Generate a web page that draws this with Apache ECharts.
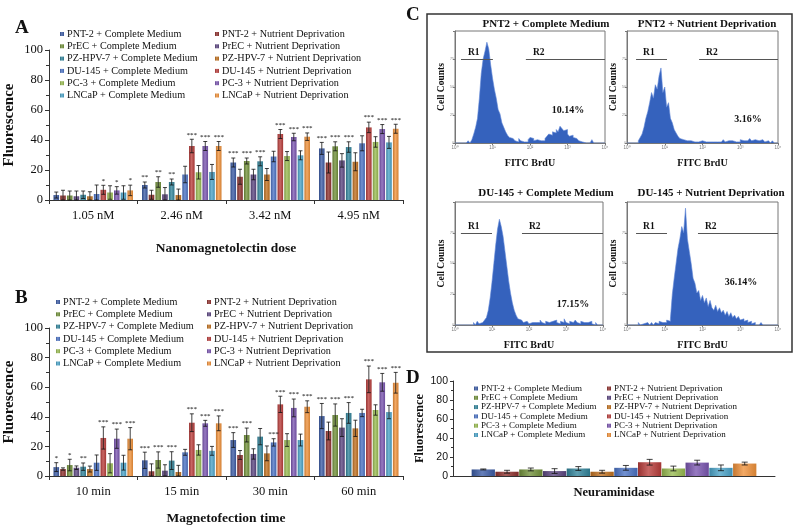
<!DOCTYPE html>
<html><head><meta charset="utf-8">
<script src="https://cdn.jsdelivr.net/npm/echarts@6/dist/echarts.min.js"></script>
<style>html,body{margin:0;padding:0;background:#fff}#c{width:800px;height:532px}</style>
</head><body><div id="c"></div>
<script>
// ---------------- DATA ----------------
const seriesNames = [
  'PNT-2 + Complete Medium', 'PNT-2 + Nutrient Deprivation',
  'PrEC + Complete Medium', 'PrEC + Nutrient Deprivation',
  'PZ-HPV-7 + Complete Medium', 'PZ-HPV-7 + Nutrient Deprivation',
  'DU-145 + Complete Medium', 'DU-145 + Nutrient Deprivation',
  'PC-3 + Complete Medium', 'PC-3 + Nutrient Deprivation',
  'LNCaP + Complete Medium', 'LNCaP + Nutrient Deprivation'
];
const doseCategories = ['1.05 nM', '2.46 nM', '3.42 nM', '4.95 nM'];
const timeCategories = ['10 min', '15 min', '30 min', '60 min'];
const neuraCategories = ['Neuraminidase'];

// Panel A: one row per dose, 12 series each
const doseValues = [
  [3.3, 3, 3, 2.5, 3.5, 2.5, 4, 6.8, 5, 6.4, 5, 6.4],
  [10, 3.5, 12, 3.8, 12, 3.3, 17, 36, 18.5, 36, 18.7, 36],
  [25, 15.5, 26, 17, 25.8, 17, 29, 44, 29.3, 42, 29.8, 42.2],
  [34.4, 25, 35.8, 26.4, 35.3, 25.5, 37.8, 48.4, 38.7, 47.3, 38.4, 47.5]
];
const doseErrors = [
  [2, 3.5, 3, 3.5, 2.5, 3, 6, 3, 4.5, 2.5, 4.5, 3.5],
  [2, 3, 3.5, 4.5, 2, 4, 5.5, 4.5, 4.5, 3, 5, 3],
  [3, 5, 2, 3.5, 3, 4, 3.5, 3, 3, 2.5, 3, 2.5],
  [4, 7, 3, 4.5, 3.5, 6, 5, 3.5, 3.5, 3, 4, 3]
];
const doseStars = [
  [0, 0, 0, 0, 0, 0, 0, 1, 0, 1, 0, 1],
  [2, 0, 2, 0, 2, 0, 0, 3, 0, 3, 0, 3],
  [3, 0, 3, 0, 3, 0, 0, 3, 0, 3, 0, 3],
  [3, 0, 3, 0, 3, 0, 0, 3, 0, 3, 0, 3]
];

// Panel B
const timeValues = [
  [6, 4.7, 7.4, 5.6, 6.3, 4.7, 9, 25.7, 8.6, 25.2, 9, 25.2],
  [10.6, 3.2, 10.8, 3.6, 10.4, 2.7, 16, 36, 17.6, 35.6, 17, 35.6],
  [24.3, 14.2, 27.7, 14.9, 26.6, 15.3, 22.7, 48.4, 24.3, 46, 24.3, 46.8],
  [40.5, 30.4, 41.2, 32.7, 42.6, 32.2, 42.6, 65.3, 44.6, 63.3, 43.2, 63]
];
const timeErrors = [
  [3, 0.8, 3.9, 1.2, 2.5, 2, 5.2, 7.5, 6.5, 6.5, 5, 7.5],
  [5.5, 5, 5.5, 4, 6, 4.5, 2, 6, 3.5, 2, 3, 5],
  [5, 3, 4.7, 3.5, 5.5, 5, 2.5, 5.5, 4.3, 6, 4, 4],
  [8.5, 6, 7.5, 6, 7, 5.5, 2.5, 9, 3.5, 6, 4.5, 7]
];
const timeStars = [
  [1, 0, 1, 0, 2, 0, 0, 3, 0, 3, 0, 3],
  [3, 0, 3, 0, 3, 0, 0, 3, 0, 3, 0, 3],
  [3, 0, 3, 0, 0, 0, 3, 3, 0, 3, 0, 3],
  [3, 0, 3, 0, 3, 0, 0, 3, 0, 3, 0, 3]
];

// Panel D
const neuraValues = [6.9, 4.5, 6.9, 5.2, 7.9, 4.5, 8.6, 14.5, 7.9, 14.1, 8.6, 13.1];
const neuraErrors = [0.5, 1.5, 1.5, 2.5, 2, 1.5, 2.5, 3, 2.5, 2.5, 3, 1.5];

// Panel C: flow-cytometry histograms, log10(FITC BrdU) bins of 0.05 from 10^0
const histBinWidth = 0.05;
const histPNT2Complete = [0,0,0,0,0,0,0,2,0,3, 8,14,22,40,62,75,82,90,84,70, 58,48,40,30,26,18,14,10,7,5, 4,3,2,1,4,2,1,0,1,3, 5,4,2,3,4,2,3,2,4,6, 8,7,10,9,12,10,15,13,11,12, 8,6,7,5,4,3,2,1,0,0, 0,0,0,3,0,0,0,0,0,0];
const histPNT2Deprivation = [0,0,0,0,0,0,2,5,8,14, 22,28,36,45,40,52,48,60,67,45, 50,32,36,22,18,12,9,6,4,3, 2,2,1,2,1,1,2,1,1,2, 1,1,2,1,2,1,1,1,2,1, 1,3,1,2,1,2,1,1,2,1, 3,2,1,2,3,4,2,3,4,2, 1,3,2,1,2,1,0,2,0,0];
const histDU145Complete = [0,0,0,0,0,0,0,0,0,0, 2,0,3,1,2,3,4,6,12,22, 35,50,65,78,86,80,72,60,48,36, 26,18,12,8,5,4,3,2,3,2, 1,2,3,2,1,2,4,2,1,3, 2,1,3,2,4,2,1,3,2,5, 2,1,3,2,1,4,2,1,3,2, 1,2,1,3,1,0,2,0,0,0];
const histDU145Deprivation = [0,0,0,0,0,0,2,0,1,0, 2,1,0,2,0,2,1,3,2,3, 2,4,3,5,25,38,50,62,70,80, 75,95,70,60,50,38,34,26,28,20, 24,18,22,15,20,14,12,16,11,14, 10,12,8,11,7,10,6,8,5,7, 4,5,3,4,2,3,1,2,0,0, 0,2,0,0,0,0,0,0,0,0];
const histTitles = ['PNT2 + Complete Medium', 'PNT2 + Nutrient Deprivation', 'DU-145 + Complete Medium', 'DU-145 + Nutrient Deprivation'];
const histPercents = ['10.14%', '3.16%', '17.15%', '36.14%'];
// gate regions [R1 start, R1 end, R2 start] in log10 units
const histGates = [[0.16, 1.01, 1.89], [0.24, 1.06, 1.91], [0.16, 1.0, 1.81], [0.24, 1.06, 1.88]];

// ---------------- STYLE ----------------
const seriesColors = ['#3b5ba5', '#8e302d', '#72913a', '#5b4580', '#31849b', '#c0701e',
                      '#4a72c4', '#b83c3a', '#98bb50', '#7a55b0', '#4aa3c8', '#f0913a'];
const SERIF = '"Liberation Serif", "Times New Roman", serif';

function shade(hex, f) {
  const n = parseInt(hex.slice(1), 16);
  let r = (n >> 16) & 255, g = (n >> 8) & 255, b = n & 255;
  const t = c => Math.round(f > 0 ? c + (255 - c) * f : c * (1 + f));
  return 'rgb(' + t(r) + ',' + t(g) + ',' + t(b) + ')';
}
function grad(c) {
  return { type: 'linear', x: 0, y: 0, x2: 1, y2: 0, colorStops: [
    { offset: 0, color: shade(c, -0.18) }, { offset: 0.45, color: shade(c, 0.22) }, { offset: 1, color: shade(c, -0.12) }] };
}

const chart = echarts.init(document.getElementById('c'));

const barCfg = [ { bw: 5.6, gap: 0.2 }, { bw: 5.6, gap: 0.2 }, { bw: 23.3, gap: 0.02 } ];

function barSeries(ax, rows) {
  return seriesNames.map((nm, s) => ({
    type: 'bar', name: nm, xAxisIndex: ax, yAxisIndex: ax,
    data: rows.map(r => r[s]),
    barWidth: barCfg[ax].bw, barGap: (barCfg[ax].gap * 100) + '%',
    itemStyle: { color: grad(seriesColors[s]) },
    z: 2
  }));
}
function errSeries(ax, rows, errs, stars) {
  const data = [];
  rows.forEach((r, c) => r.forEach((v, s) => data.push([c, s, v, errs[c][s], stars ? stars[c][s] : 0])));
  const { bw, gap } = barCfg[ax];
  const n = seriesNames.length;
  const pitch = bw * (1 + gap);
  const total = n * pitch - bw * gap;
  return {
    type: 'custom', xAxisIndex: ax, yAxisIndex: ax, z: 5, silent: true,
    encode: { x: 0, y: 2 },
    data: data,
    renderItem: function (params, api) {
      const c = api.value(0), s = api.value(1), v = api.value(2), e = api.value(3), st = api.value(4);
      const base = api.coord([c, v]);
      const x = base[0] - total / 2 + s * pitch + bw / 2;
      const yt = api.coord([c, v + e])[1];
      const yb = api.coord([c, Math.max(0, v - e)])[1];
      const cap = ax === 2 ? 3 : 2;
      const st2 = { stroke: '#111', lineWidth: 0.8 };
      const children = [
        { type: 'line', shape: { x1: x, y1: yt, x2: x, y2: yb }, style: st2 },
        { type: 'line', shape: { x1: x - cap, y1: yt, x2: x + cap, y2: yt }, style: st2 },
        { type: 'line', shape: { x1: x - cap, y1: yb, x2: x + cap, y2: yb }, style: st2 }
      ];
      if (st > 0) {
        children.push({ type: 'text', style: { text: '*'.repeat(st), x: x, y: yt - 1, align: 'center', verticalAlign: 'bottom',
          fontSize: 7, fontFamily: SERIF, fill: '#000' } });
      }
      return { type: 'group', children: children };
    }
  };
}

const histData = [histPNT2Complete, histPNT2Deprivation, histDU145Complete, histDU145Deprivation];
function histSeries(k) {
  const arr = histData[k];
  const pts = arr.map((v, i) => [i * histBinWidth, v]);
  pts.push([arr.length * histBinWidth, 0]);
  const g = histGates[k];
  const lbl = { show: true, position: 'insideStartTop', formatter: '{b}', fontFamily: SERIF, fontWeight: 'bold', fontSize: 9.5, color: '#111', padding: [0, 0, 0, 6], distance: 1 };
  return {
    type: 'line', xAxisIndex: 3 + k, yAxisIndex: 3 + k, step: 'end', symbol: 'none', silent: true,
    data: pts,
    lineStyle: { color: '#5f86d6', width: 0.6 },
    areaStyle: { color: '#3562bd', opacity: 1 },
    markLine: {
      symbol: 'none', silent: true, animation: false,
      lineStyle: { color: '#555', width: 1, type: 'solid' },
      label: lbl,
      data: [
        [{ name: 'R1', coord: [g[0], 75] }, { coord: [g[1], 75] }],
        [{ name: 'R2', coord: [g[2], 75] }, { coord: [4, 75] }]
      ]
    }
  };
}

const histGrids = [
  { left: 455, top: 31, width: 150, height: 112 },
  { left: 627, top: 31, width: 151, height: 112 },
  { left: 455, top: 202, width: 148, height: 123 },
  { left: 627, top: 202, width: 151, height: 123 }
];

const supers = ['\u2070', '\u00b9', '\u00b2', '\u00b3', '\u2074'];
const catAxisBase = {
  type: 'category',
  axisLine: { lineStyle: { color: '#333', width: 1 } },
  axisTick: { show: true, length: 4, lineStyle: { color: '#333' } },
  axisLabel: { fontFamily: SERIF, fontSize: 12.5, color: '#111', margin: 9 },
  nameLocation: 'middle',
  nameTextStyle: { fontFamily: SERIF, fontWeight: 'bold', fontSize: 13.5, color: '#111' }
};
const valAxisBase = {
  type: 'value', min: 0, max: 100, interval: 20,
  axisLine: { show: true, lineStyle: { color: '#333', width: 1 } },
  axisTick: { show: true, length: 4, lineStyle: { color: '#333' } },
  minorTick: { show: true, splitNumber: 2, length: 3, lineStyle: { color: '#333' } },
  splitLine: { show: false },
  axisLabel: { fontFamily: SERIF, fontSize: 12.5, color: '#111', margin: 6 },
  name: 'Fluorescence', nameLocation: 'middle', nameRotate: 90,
  nameTextStyle: { fontFamily: SERIF, fontWeight: 'bold', fontSize: 15, color: '#111' }
};

const xAxes = [
  Object.assign({}, catAxisBase, { gridIndex: 0, data: doseCategories, name: 'Nanomagnetolectin dose', nameGap: 42 }),
  Object.assign({}, catAxisBase, { gridIndex: 1, data: timeCategories, name: 'Magnetofection time', nameGap: 36 }),
  Object.assign({}, catAxisBase, { gridIndex: 2, data: neuraCategories, name: 'Neuraminidase', nameGap: 10,
    axisLabel: { show: false }, axisTick: { show: false },
    nameTextStyle: { fontFamily: SERIF, fontWeight: 'bold', fontSize: 12.5, color: '#111' } })
];
const yAxes = [
  Object.assign({}, valAxisBase, { gridIndex: 0, nameGap: 32 }),
  Object.assign({}, valAxisBase, { gridIndex: 1, nameGap: 32 }),
  Object.assign({}, valAxisBase, { gridIndex: 2, nameGap: 27,
    axisLabel: { fontFamily: 'Arial, "Liberation Sans", sans-serif', fontSize: 10.5, color: '#111', margin: 5 },
    axisTick: { show: true, length: 3, lineStyle: { color: '#333' } },
    minorTick: { show: true, splitNumber: 2, length: 2, lineStyle: { color: '#333' } },
    nameTextStyle: { fontFamily: SERIF, fontWeight: 'bold', fontSize: 12.5, color: '#111' } })
];
histGrids.forEach((g, k) => {
  xAxes.push({
    type: 'value', gridIndex: 3 + k, min: 0, max: 4, interval: 1,
    axisLine: { show: true, lineStyle: { color: '#777' } },
    axisTick: { show: true, length: 2, lineStyle: { color: '#777' } },
    splitLine: { show: false },
    axisLabel: { fontSize: 4.5, color: '#777', margin: 2, formatter: v => '10' + supers[v] },
    name: 'FITC BrdU', nameLocation: 'middle', nameGap: 15,
    nameTextStyle: { fontFamily: SERIF, fontWeight: 'bold', fontSize: 10, color: '#111' }
  });
  yAxes.push({
    type: 'value', gridIndex: 3 + k, min: 0, max: 100, interval: 25,
    axisLine: { show: true, lineStyle: { color: '#777' } },
    axisTick: { show: true, length: 2, lineStyle: { color: '#777' } },
    splitLine: { show: false },
    axisLabel: { fontSize: 3.5, color: '#888', margin: 1, formatter: v => v === 100 ? '' : String(v) },
    name: 'Cell Counts', nameLocation: 'middle', nameGap: 7, nameRotate: 90,
    nameTextStyle: { fontFamily: SERIF, fontWeight: 'bold', fontSize: 9.5, color: '#111' }
  });
});

function legendCol(names, left, top, fs, lh) {
  return {
    data: names, orient: 'vertical', left: left, top: top, padding: 0,
    icon: 'rect', itemWidth: 4, itemHeight: 4, itemGap: 0.3,
    selectedMode: false,
    textStyle: { fontFamily: SERIF, fontSize: fs, lineHeight: lh, color: '#111', padding: [0, 0, 0, -2] }
  };
}
const cmNames = seriesNames.filter((_, i) => i % 2 === 0);
const ndNames = seriesNames.filter((_, i) => i % 2 === 1);

const option = {
  backgroundColor: '#fff',
  animation: false,
  grid: [
    { left: 49, top: 50, width: 354, height: 150 },
    { left: 49, top: 328, width: 354, height: 148 },
    { left: 453, top: 381, width: 322, height: 95 }
  ].concat(histGrids.map(g => Object.assign({ show: true, borderColor: '#777', borderWidth: 1, backgroundColor: '#fff' }, g))),
  xAxis: xAxes,
  yAxis: yAxes,
  legend: [
    legendCol(cmNames, 60, 28, 10.2, 12),
    legendCol(ndNames, 215, 28, 10.2, 12),
    legendCol(cmNames, 56, 296, 10.2, 12),
    legendCol(ndNames, 207, 296, 10.2, 12),
    legendCol(cmNames, 474, 384, 9, 9),
    legendCol(ndNames, 607, 384, 9, 9)
  ],
  series: [].concat(
    barSeries(0, doseValues), [errSeries(0, doseValues, doseErrors, doseStars)],
    barSeries(1, timeValues), [errSeries(1, timeValues, timeErrors, timeStars)],
    barSeries(2, [neuraValues]), [errSeries(2, [neuraValues], [neuraErrors], null)],
    [0, 1, 2, 3].map(histSeries)
  ),
  graphic: [
    { type: 'text', left: 15, top: 19, style: { text: 'A', font: 'bold 19px ' + SERIF, fill: '#111' } },
    { type: 'text', left: 15, top: 289, style: { text: 'B', font: 'bold 19px ' + SERIF, fill: '#111' } },
    { type: 'text', left: 406, top: 6, style: { text: 'C', font: 'bold 19px ' + SERIF, fill: '#111' } },
    { type: 'text', left: 406, top: 369, style: { text: 'D', font: 'bold 19px ' + SERIF, fill: '#111' } },
    { type: 'rect', shape: { x: 427, y: 14, width: 365, height: 338 }, style: { fill: 'none', stroke: '#333', lineWidth: 1.5 }, z: 10 },
    { type: 'text', x: 546, y: 24, style: { text: histTitles[0], font: 'bold 11px ' + SERIF, fill: '#111', align: 'center', verticalAlign: 'middle' } },
    { type: 'text', x: 707, y: 24, style: { text: histTitles[1], font: 'bold 11px ' + SERIF, fill: '#111', align: 'center', verticalAlign: 'middle' } },
    { type: 'text', x: 546, y: 193, style: { text: histTitles[2], font: 'bold 11px ' + SERIF, fill: '#111', align: 'center', verticalAlign: 'middle' } },
    { type: 'text', x: 711, y: 193, style: { text: histTitles[3], font: 'bold 11px ' + SERIF, fill: '#111', align: 'center', verticalAlign: 'middle' } },
    { type: 'text', x: 568, y: 110, z: 20, style: { text: histPercents[0], font: 'bold 10px ' + SERIF, fill: '#111', align: 'center', verticalAlign: 'middle' } },
    { type: 'text', x: 748, y: 119, z: 20, style: { text: histPercents[1], font: 'bold 10px ' + SERIF, fill: '#111', align: 'center', verticalAlign: 'middle' } },
    { type: 'text', x: 573, y: 304, z: 20, style: { text: histPercents[2], font: 'bold 10px ' + SERIF, fill: '#111', align: 'center', verticalAlign: 'middle' } },
    { type: 'text', x: 741, y: 282, z: 20, style: { text: histPercents[3], font: 'bold 10px ' + SERIF, fill: '#111', align: 'center', verticalAlign: 'middle' } }
  ]
};
chart.setOption(option);
</script>
</body></html>
